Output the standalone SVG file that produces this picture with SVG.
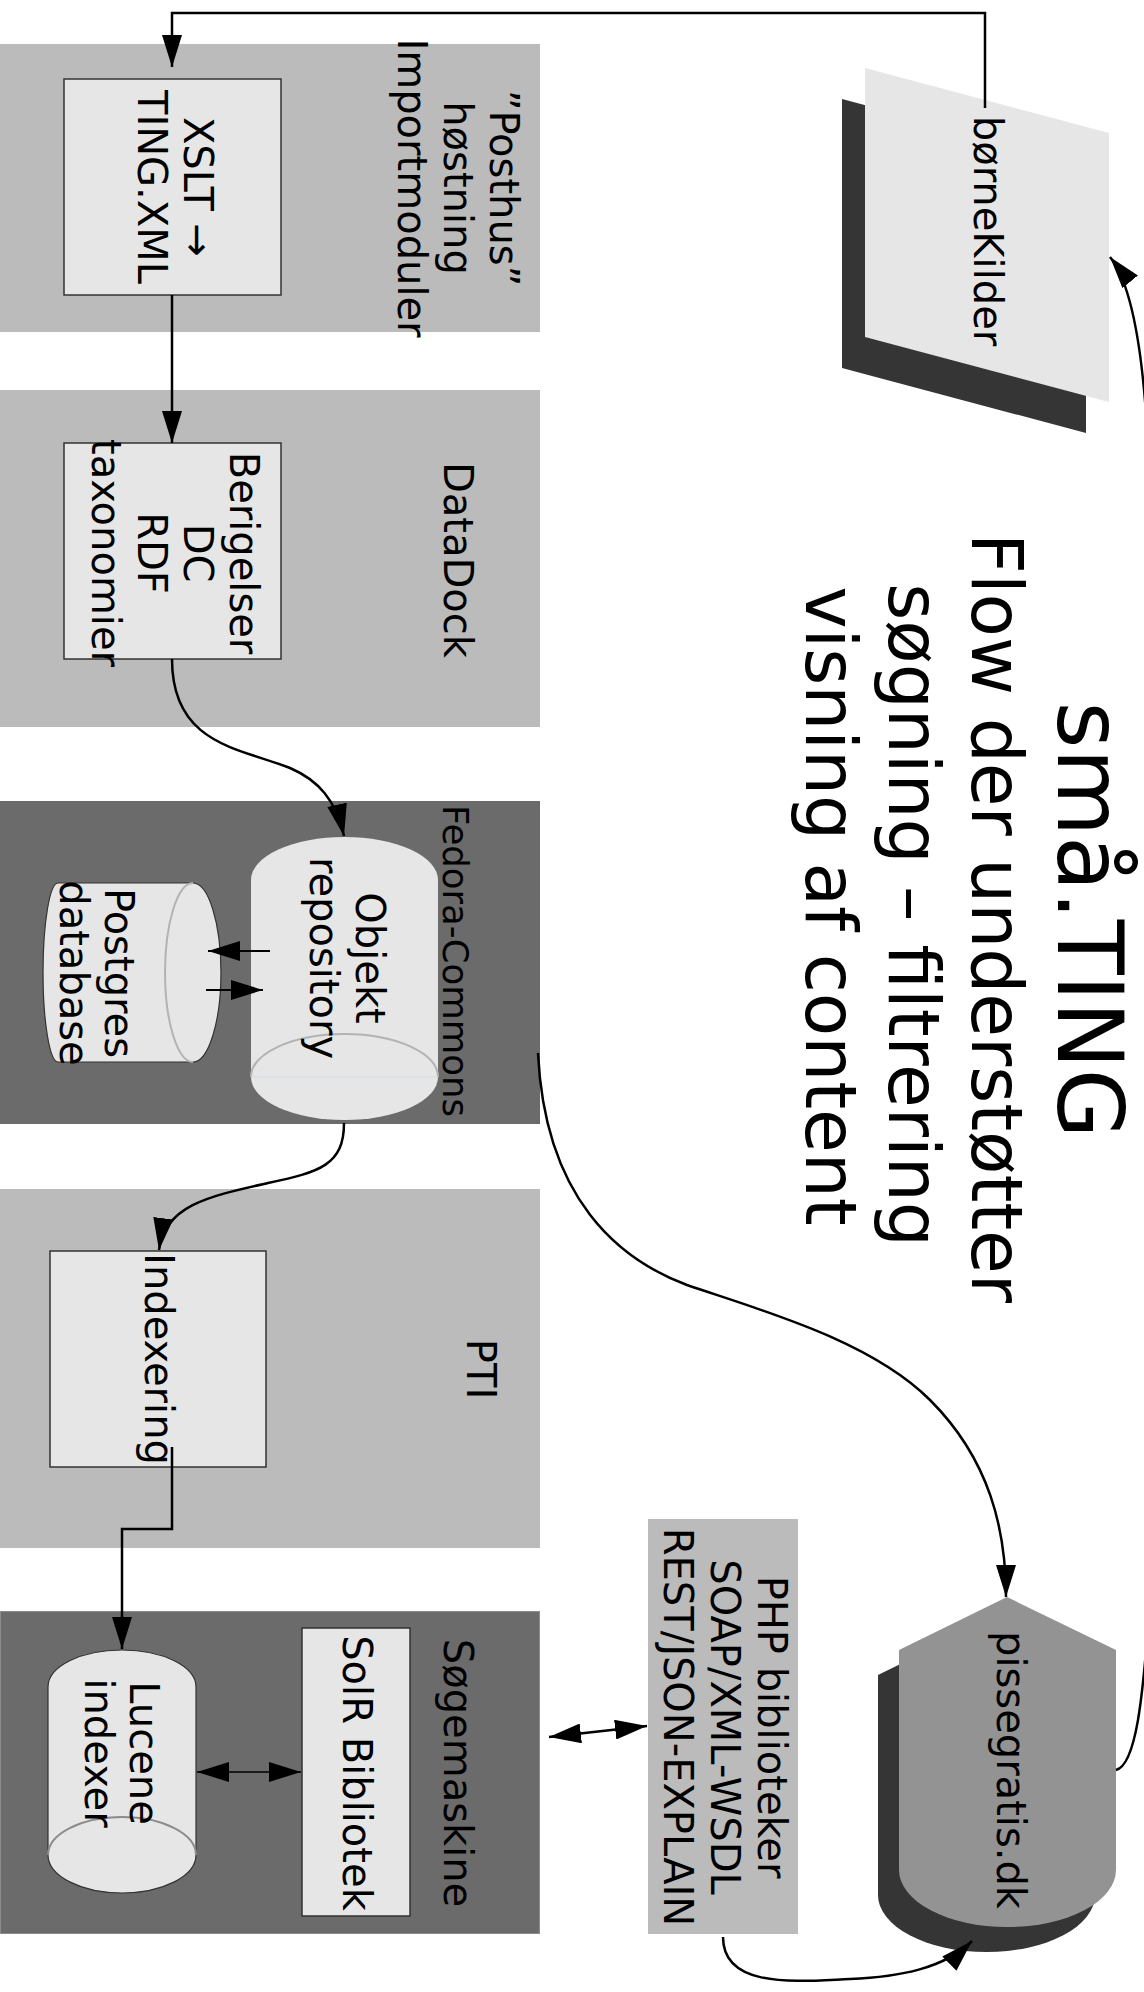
<svg xmlns="http://www.w3.org/2000/svg" width="1144" height="1992" viewBox="0 0 1144 1992">
<defs>
<style>
text { font-family: "DejaVu Sans", "Liberation Sans", sans-serif; font-size: 40px; fill: #000; text-anchor: middle; }
.grp-light { fill: #bbbbbb; }
.grp-dark { fill: #6b6b6b; }
.node { fill: #e6e6e6; stroke: #333333; stroke-width: 1.5; }
.conn { fill: none; stroke: #000000; stroke-width: 2.5; }
.thin { stroke-width: 1.8; }
.shadow { fill: #353535; }
.inner { fill: none; stroke: #b3b3b3; stroke-width: 2; }
</style>
<marker id="ah" viewBox="0 0 32 20" refX="32" refY="10" markerWidth="32" markerHeight="20" markerUnits="userSpaceOnUse" orient="auto-start-reverse">
<path d="M0,0 L32,10 L0,20 Z" fill="#000000"/>
</marker>
</defs>
<rect x="0" y="0" width="1144" height="1992" fill="#ffffff"/>

<g id="posthus">
<rect class="grp-light" x="0" y="44" width="540" height="288"/>
<text transform="translate(490,188) rotate(90)"><tspan x="0" y="0">”Posthus”</tspan><tspan x="0" dy="46">høstning</tspan><tspan x="0" dy="46">Importmoduler</tspan></text>
</g>
<g id="xslt">
<rect class="node" x="64" y="79" width="217" height="216"/>
<text transform="translate(184,187) rotate(90)"><tspan x="0" y="0">XSLT →</tspan><tspan x="0" dy="46">TING.XML</tspan></text>
</g>

<g id="datadock">
<rect class="grp-light" x="0" y="390" width="540" height="337"/>
<text transform="translate(444,560) rotate(90)">DataDock</text>
</g>
<g id="berigelser">
<rect class="node" x="64" y="443" width="217" height="216"/>
<text transform="translate(230,553) rotate(90)"><tspan x="0" y="0">Berigelser</tspan><tspan x="0" dy="46">DC</tspan><tspan x="0" dy="46">RDF</tspan><tspan x="0" dy="46">taxonomier</tspan></text>
</g>

<g id="fedora">
<rect class="grp-dark" x="0" y="801" width="540" height="323"/>
<text transform="translate(443,961) rotate(90)" style="font-size:35.5px">Fedora-Commons</text>
</g>
<g id="objekt">
<path d="M251,880 A93.5,43 0 0 1 438,880 L438,1077 A93.5,43 0 0 1 251,1077 Z" fill="#e6e6e6"/>
<path class="inner" d="M251,1077 A93.5,43 0 0 1 438,1077"/>
<path d="M251,1077 L438,1077" stroke="#cddbe8" stroke-width="1" fill="none"/>
<text transform="translate(356,958) rotate(90)"><tspan x="0" y="0">Objekt</tspan><tspan x="0" dy="46">repository</tspan></text>
</g>
<g id="postgres">
<path d="M58,883 L193,883 A28,89.5 0 0 1 193,1062 L58,1062 A15,89.5 0 0 1 58,883 Z" fill="#e6e6e6" stroke="#333333" stroke-width="1.2"/>
<path class="inner" d="M193,883 A28,89.5 0 0 0 193,1062"/>
<text transform="translate(105,973) rotate(90)"><tspan x="0" y="0">Postgres</tspan><tspan x="0" dy="45">database</tspan></text>
</g>

<g id="pti">
<rect class="grp-light" x="0" y="1189" width="540" height="359"/>
<text transform="translate(467,1369) rotate(90)">PTI</text>
</g>
<g id="indexering">
<rect class="node" x="50" y="1251" width="216" height="216"/>
<text transform="translate(145,1359) rotate(90)">Indexering</text>
</g>

<g id="soegemaskine">
<rect class="grp-dark" x="0.5" y="1611.5" width="539" height="322" stroke="#8c8c8c" stroke-width="1"/>
<text transform="translate(444,1773) rotate(90)">Søgemaskine</text>
</g>
<g id="solr">
<rect class="node" x="302" y="1628" width="108" height="288"/>
<text transform="translate(343,1773) rotate(90)">SolR Bibliotek</text>
</g>
<g id="lucene">
<path d="M48,1687 A74,37 0 0 1 196,1687 L196,1855 A74,38 0 0 1 48,1855 Z" fill="#e6e6e6" stroke="#333333" stroke-width="1.2"/>
<path d="M48,1855 A74,38 0 0 1 196,1855" fill="none" stroke="#8c8c8c" stroke-width="2"/>
<text transform="translate(130,1753) rotate(90)"><tspan x="0" y="0">Lucene</tspan><tspan x="0" dy="45">indexer</tspan></text>
</g>

<g id="php">
<rect class="grp-light" x="648" y="1519" width="150" height="415"/>
<text transform="translate(758,1727) rotate(90)"><tspan x="0" y="0">PHP biblioteker</tspan><tspan x="0" dy="47">SOAP/XML-WSDL</tspan><tspan x="0" dy="47">REST/JSON-EXPLAIN</tspan></text>
</g>

<g id="boernekilder">
<polygon class="shadow" points="842,99 1086,164 1086,433 842,368"/>
<polygon points="865,68 1109,133 1109,402 865,337" fill="#e6e6e6"/>
<text transform="translate(974,231) rotate(90)">børneKilder</text>
</g>

<g id="pissegratis">
<path class="shadow" d="M878,1675 L986,1622 L1095,1675 L1095,1895 A108.5,57 0 0 1 878,1895 Z"/>
<path d="M899,1650 L1007,1597 L1116,1650 L1116,1870 A108.5,57 0 0 1 899,1870 Z" fill="#939393"/>
<text transform="translate(997,1770) rotate(90)">pissegratis.dk</text>
</g>

<g id="title">
<text transform="translate(1058,920) rotate(90)" style="font-size:90px">små.TING</text>
<text transform="translate(972,918) rotate(90)" style="font-size:71px">Flow der understøtter</text>
<text transform="translate(889,915) rotate(90)" style="font-size:71px">søgning – filtrering</text>
<text transform="translate(806,906) rotate(90)" style="font-size:71px">visning af content</text>
</g>

<g id="connectors">
<path class="conn" d="M985,108 L985,13 L172,13 L172,67" marker-end="url(#ah)"/>
<path class="conn" d="M172,295 L172,443" marker-end="url(#ah)"/>
<path class="conn" d="M172,659 C172,745 240,748 290,768 C318,780 336,800 344,836" marker-end="url(#ah)"/>
<path class="conn thin" d="M270,951 L208,951" marker-end="url(#ah)"/>
<path class="conn thin" d="M206,990 L263,990" marker-end="url(#ah)"/>
<path class="conn" d="M344,1123 C344,1165 320,1172 268,1183 C210,1196 165,1205 159,1250" marker-end="url(#ah)"/>
<path class="conn" d="M172,1447 L172,1529 L122,1529 L122,1649" marker-end="url(#ah)"/>
<path class="conn" d="M197,1772 L301,1772" style="stroke-width:1.5" marker-start="url(#ah)" marker-end="url(#ah)"/>
<path class="conn" d="M549,1737 L647,1726" marker-start="url(#ah)" marker-end="url(#ah)"/>
<path class="conn" d="M538,1053 C545,1200 620,1260 687,1285 C760,1310 870,1340 930,1400 C990,1460 1006,1530 1006,1597" marker-end="url(#ah)"/>
<path class="conn" d="M723,1937 C723,1990 800,1981 850,1979 C900,1977 945,1968 972,1941" marker-end="url(#ah)"/>
<path class="conn" d="M1116,1770 C1136,1765 1143,1700 1150,1600 L1150,600 C1152,450 1145,300 1110,257" marker-end="url(#ah)"/>
</g>
</svg>
